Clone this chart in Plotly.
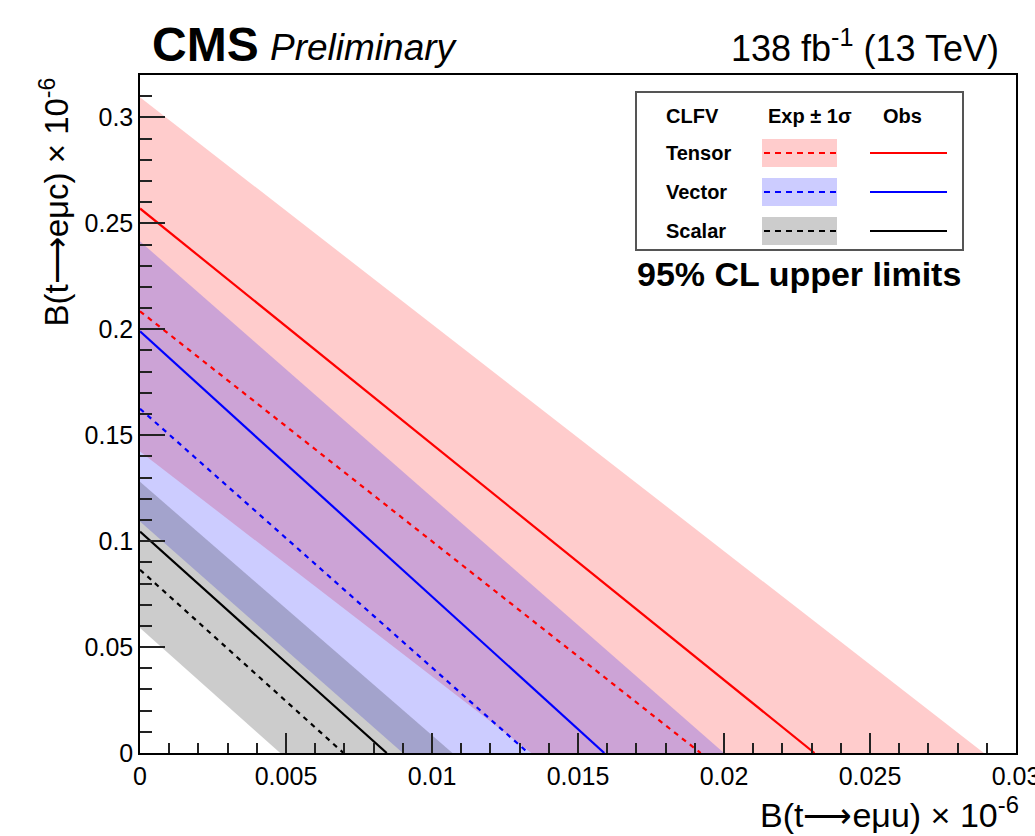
import plotly.graph_objects as go

# ---------------- data ----------------
models = ["Tensor", "Vector", "Scalar"]
# Each limit is a straight line between its two axis intercepts:
# c0 = B(t->e mu c) at B(t->e mu u)=0 ; u0 = B(t->e mu u) at B(t->e mu c)=0  (units 1e-6)
obs_c0 = [0.257, 0.199, 0.1045]
obs_u0 = [0.0231, 0.0159, 0.00845]
exp_c0 = [0.2085, 0.1625, 0.0865]
exp_u0 = [0.0192, 0.0133, 0.00697]
up_c0 = [0.3095, 0.2415, 0.128]      # +1 sigma edge
up_u0 = [0.0289, 0.0200, 0.0107]
lo_c0 = [0.1423, 0.1093, 0.0590]     # -1 sigma edge
lo_u0 = [0.0134, 0.0090, 0.0048]

x_ticks = [0, 0.005, 0.01, 0.015, 0.02, 0.025, 0.03]
y_ticks = [0, 0.05, 0.1, 0.15, 0.2, 0.25, 0.3]

line_colors = ["#ff0000", "#0000ff", "#000000"]
band_colors = ["rgba(255,0,0,0.2)", "rgba(0,0,255,0.2)", "rgba(0,0,0,0.2)"]

FONT = "Liberation Sans, Arial, Helvetica, sans-serif"

# ---------------- figure ----------------
fig = go.Figure()

for i, m in enumerate(models):
    fig.add_trace(go.Scatter(
        x=[0, up_u0[i], lo_u0[i], 0, 0],
        y=[up_c0[i], 0, 0, lo_c0[i], up_c0[i]],
        fill="toself", fillcolor=band_colors[i], mode="lines",
        line=dict(width=0), hoverinfo="skip", showlegend=False, name=m + " band"))

for i, m in enumerate(models):
    fig.add_trace(go.Scatter(
        x=[0, exp_u0[i]], y=[exp_c0[i], 0], mode="lines",
        line=dict(color=line_colors[i], width=2.2, dash="5px,5px"),
        showlegend=False, name=m + " exp"))
    fig.add_trace(go.Scatter(
        x=[0, obs_u0[i]], y=[obs_c0[i], 0], mode="lines",
        line=dict(color=line_colors[i], width=2.2),
        showlegend=False, name=m + " obs"))

# layout geometry (pixels)
L, R, T, B = 140, 19, 75, 83
W, H = 1035, 836
PW, PH = W - L - R, H - T - B


def px(x):
    return (x - L) / PW


def py(y):
    return (H - B - y) / PH


ann = []
shapes = []


def text(x, y, s, size, xanchor="left", yanchor="middle", angle=0):
    ann.append(dict(x=px(x), y=py(y), xref="paper", yref="paper", text=s,
                    showarrow=False, xanchor=xanchor, yanchor=yanchor,
                    textangle=angle,
                    font=dict(family=FONT, size=size, color="black")))


# header texts
text(150, 45, "<b>CMS</b>", 48)
text(268, 47, "<i>Preliminary</i>", 37)
text(1001, 46, "138 fb<sup>-1</sup> (13 TeV)", 36, xanchor="right")

# axis titles
text(1021, 812, "B(t⟶eμu) × 10<sup>-6</sup>", 34, xanchor="right")
text(55, 76, "B(t⟶eμc) × 10<sup>-6</sup>", 33, xanchor="center", yanchor="top", angle=-90)

# legend box
shapes.append(dict(type="rect", xref="paper", yref="paper",
                   x0=px(636), x1=px(963), y0=py(250), y1=py(92),
                   line=dict(color="#555555", width=2), fillcolor="white", layer="above"))
text(664, 116, "<b>CLFV</b>", 20)
text(766, 116, "<b>Exp ± 1σ</b>", 20)
text(881, 116, "<b>Obs</b>", 20)
row_y = [153, 192, 231]
for i, m in enumerate(models):
    text(664, row_y[i], "<b>%s</b>" % m, 20)
    shapes.append(dict(type="rect", xref="paper", yref="paper",
                       x0=px(762), x1=px(837), y0=py(row_y[i] + 14), y1=py(row_y[i] - 14),
                       line=dict(width=0), fillcolor=band_colors[i], layer="above"))
    shapes.append(dict(type="line", xref="paper", yref="paper",
                       x0=px(764), x1=px(836), y0=py(row_y[i]), y1=py(row_y[i]),
                       line=dict(color=line_colors[i], width=2, dash="6px,5px"), layer="above"))
    shapes.append(dict(type="line", xref="paper", yref="paper",
                       x0=px(870), x1=px(947), y0=py(row_y[i]), y1=py(row_y[i]),
                       line=dict(color=line_colors[i], width=2), layer="above"))
text(635, 274, "<b>95% CL upper limits</b>", 34)

axis_common = dict(showgrid=False, zeroline=False, showline=True, mirror=True,
                   linecolor="black", linewidth=1.5, ticks="inside",
                   tickcolor="#222222", tickwidth=1.5,
                   tickfont=dict(family=FONT, size=25, color="black"),
                   automargin=False, ticklabeloverflow="allow")

fig.update_layout(
    width=W, height=H,
    margin=dict(l=L, r=R, t=T, b=B, pad=0),
    paper_bgcolor="white", plot_bgcolor="white",
    showlegend=False,
    xaxis=dict(range=[0, 0.03], tickvals=x_ticks, ticktext=[str(v) for v in x_ticks],
               ticklen=20,
               minor=dict(ticks="inside", dtick=0.001, tick0=0, ticklen=10,
                          tickcolor="#222222", tickwidth=1.5, showgrid=False),
               **axis_common),
    yaxis=dict(range=[0, 0.32], tickvals=y_ticks, ticktext=[str(v) for v in y_ticks],
               ticklen=25,
               minor=dict(ticks="inside", dtick=0.01, tick0=0, ticklen=12,
                          tickcolor="#222222", tickwidth=1.5, showgrid=False),
               **axis_common),
    annotations=ann, shapes=shapes,
)

fig.write_html("out.html")
